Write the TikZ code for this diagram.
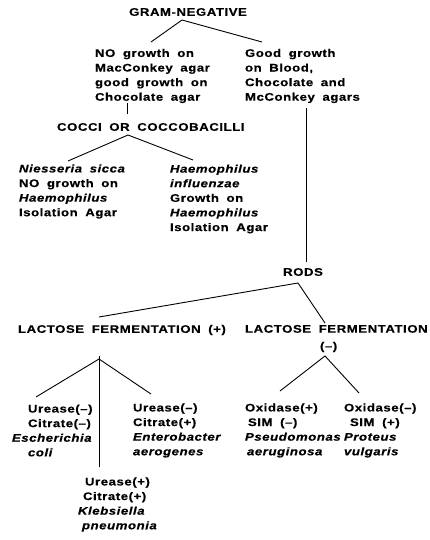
\documentclass[tikz,border=0pt]{standalone}
\usepackage{fontspec}
\setmainfont{Liberation Sans}[UprightFont={* Bold},ItalicFont={* Bold Italic},LetterSpace=5,WordSpace=1.8,FakeStretch=1.2,FakeBold=0.5]
\begin{document}
\begin{tikzpicture}[x=1pt,y=-1pt,
  lbl/.style={inner sep=0pt,outer sep=0pt,align=left,anchor=west,font=\fontsize{11}{14.6}\selectfont},
  conn/.style={line width=0.9pt,black}]
\useasboundingbox (0,0) rectangle (429,540);
% nodes
\node[lbl,anchor=center] (gram) at (188,12) {GRAM-NEGATIVE};
\node[lbl] (nogrowth) at (95,76) {NO growth on\\MacConkey agar\\good growth on\\Chocolate agar};
\node[lbl] (good) at (245,76) {Good growth\\on Blood,\\Chocolate and\\McConkey agars};
\node[lbl] (cocci) at (57,127) {COCCI OR COCCOBACILLI};
\node[lbl] (niess) at (19,191.5) {\textit{Niesseria sicca}\\NO growth on\\\textit{Haemophilus}\\Isolation Agar};
\node[lbl] (haem) at (170,199) {\textit{Haemophilus}\\\textit{influenzae}\\Growth on\\\textit{Haemophilus}\\Isolation Agar};
\node[lbl,anchor=center] (rods) at (303,272) {RODS};
\node[lbl] (lacp) at (18,330) {LACTOSE FERMENTATION (+)};
\node[lbl,anchor=north west] (lacm) at (245,325) {LACTOSE FERMENTATION\\[2.5pt]\hspace{75pt}(--)};
\node[lbl] (ecoli) at (12,430.5) {\hspace{16pt}Urease(--)\\\hspace{16pt}Citrate(--)\\\textit{Escherichia}\\\hspace{16pt}\textit{coli}};
\node[lbl] (entero) at (133,430.5) {Urease(--)\\Citrate(+)\\\textit{Enterobacter}\\\textit{aerogenes}};
\node[lbl] (pseudo) at (245,430.5) {Oxidase(+)\\\hspace{3pt}SIM (--)\\\textit{Pseudomonas}\\\hspace{2pt}\textit{aeruginosa}};
\node[lbl] (proteus) at (344,430.5) {Oxidase(--)\\\hspace{6pt}SIM (+)\\\textit{Proteus}\\\textit{vulgaris}};
\node[lbl] (kleb) at (78,504.5) {\hspace{7pt}Urease(+)\\\hspace{5pt}Citrate(+)\\\textit{Klebsiella}\\\hspace{4pt}\textit{pneumonia}};
% connector points
\coordinate (g0) at (182,20);
\coordinate (g1) at (151,42);
\coordinate (g2) at (262,42);
\coordinate (n0) at (127,103);
\coordinate (n1) at (127,114);
\coordinate (c0) at (128,135);
\coordinate (c1) at (68,161);
\coordinate (c2) at (193,160);
\coordinate (r0) at (306,108);
\coordinate (r1) at (306,262);
\coordinate (d0) at (298,283);
\coordinate (d1) at (99,317);
\coordinate (d2) at (325,323);
\coordinate (p0) at (99,356);
\coordinate (pj) at (99,359);
\coordinate (p1) at (99,467);
\coordinate (p2) at (36,397);
\coordinate (p3) at (151,394);
\coordinate (m0) at (325,356);
\coordinate (m1) at (280,391);
\coordinate (m2) at (359,393);
% connectors
\draw[conn] (g1) -- (g0) -- (g2);
\draw[conn] (n0) -- (n1);
\draw[conn] (c1) -- (c0) -- (c2);
\draw[conn] (r0) -- (r1);
\draw[conn] (d1) -- (d0) -- (d2);
\draw[conn] (p0) -- (p1);
\draw[conn] (p2) -- (pj) -- (p3);
\draw[conn] (m1) -- (m0) -- (m2);
\end{tikzpicture}
\end{document}
